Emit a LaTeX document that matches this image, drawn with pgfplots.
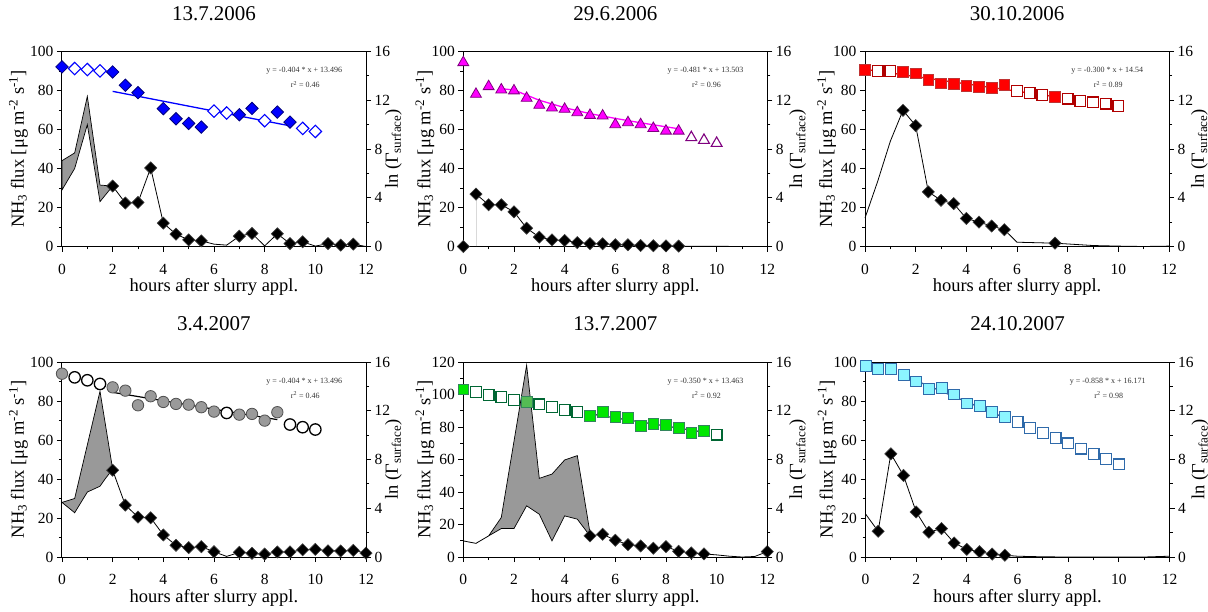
\documentclass[border=0pt]{standalone}
\usepackage{fontspec}
\setmainfont{Liberation Serif}
\usepackage{pgfplots}
\pgfplotsset{compat=1.18}

\definecolor{bfill}{HTML}{0000FF}
\definecolor{bedge}{HTML}{00007A}
\definecolor{mfill}{HTML}{FF00FF}
\definecolor{medge}{HTML}{7F007F}
\definecolor{rfill}{HTML}{FF0000}
\definecolor{redge}{HTML}{B00000}
\definecolor{cgfill}{HTML}{9A9A9A}
\definecolor{cgedge}{HTML}{505050}
\definecolor{gfill}{HTML}{00E600}
\definecolor{gedge}{HTML}{006633}
\definecolor{gline}{HTML}{2E6B3A}
\definecolor{cfill}{HTML}{8CF5FF}
\definecolor{cedge}{HTML}{2F6AAA}
\definecolor{cline}{HTML}{336699}
\definecolor{band}{HTML}{999999}

\tikzset{eq/.style={font=\fontsize{8}{9}\selectfont, text=black!80}}

\pgfplotsset{
  base/.style={
    scale only axis, width=304pt, height=195pt, anchor=south west,
    xmin=0, xmax=12, tick align=outside,
    major tick length=5pt, minor tick length=3pt,
    axis line style={line width=1pt}, every tick/.style={black, line width=0.9pt},
    /pgf/number format/assume math mode=true,
    tick label style={font=\fontsize{15.5}{17}\selectfont},
    label style={font=\fontsize{18.5}{21}\selectfont},
    clip=false,
  },
  fluxax/.style={base,
    xtick={0,2,...,12}, minor x tick num=1,
    xtick pos=left, ytick pos=left,
    xticklabel shift=9pt,
    ymin=0, ymax=100, ytick={0,20,...,100}, minor y tick num=1,
    xlabel={hours after slurry appl.},
    ylabel={NH\textsubscript{3} flux [μg m\textsuperscript{-2} s\textsuperscript{-1}]},
    xlabel style={at={(axis description cs:0.5,-0.21)}, anchor=center},
    title style={font=\fontsize{21}{24}\selectfont, at={(axis description cs:0.5,1.165)}, anchor=center},
  },
  lnax/.style={base,
    axis y line*=right, axis x line=none,
    ymin=0, ymax=16, ytick={0,4,...,16}, minor y tick num=1,
    ylabel={ln (Γ\textsubscript{surface})},
  },
  fline/.style={black, line width=0.8pt, mark=none},
  fmk/.style={only marks, mark=square*, mark size=4.3pt,
    mark options={rotate=45, fill=black, draw=black!75, line width=0.6pt}},
  bandst/.style={fill=band, draw=black, line width=0.7pt},
}

\begin{document}
\begin{tikzpicture}

% ---------- 13.7.2006 ----------
\begin{axis}[fluxax, at={(62pt,-246.5pt)}, title={13.7.2006},
  ylabel style={at={(axis description cs:-0.143,0.5)}, anchor=center}]
\addplot[bandst] coordinates {(0,44) (0.5,48) (1,77) (1.5,31.5) (2,31) (1.5,23) (1,62.5) (0.5,40) (0,29) (0,44)};
\addplot[fline] coordinates {(2,31) (2.5,22.3) (3,22.6) (3.5,40.3) (4,12) (4.5,6.3) (5,3.4) (5.5,2.9) (6,1.2) (6.5,0.7) (7,5.3) (7.5,6.7) (8,0.3) (8.5,6.5) (9,1.5) (9.5,2.4) (10,0.2) (10.5,1.5) (11,0.7) (11.5,1.2) (12,0)};
\addplot[fmk] coordinates {(2,31) (2.5,22.3) (3,22.6) (3.5,40.3) (4,12) (4.5,6.3) (5,3.4) (5.5,2.9) (7,5.3) (7.5,6.7) (8.5,6.5) (9,1.5) (9.5,2.4) (10.5,1.5) (11,0.7) (11.5,1.2)};
\end{axis}
\begin{axis}[lnax, at={(62pt,-246.5pt)},
  ylabel style={at={(axis description cs:1.09,0.5)}, anchor=center}]
\addplot[only marks, mark=square*, mark size=4.4pt, mark options={rotate=45, fill=white, draw=bfill, line width=1.1pt}]
  coordinates {(0.5,14.6) (1,14.52) (1.5,14.41) (6,11.11) (6.5,10.95) (8,10.32) (9.5,9.69) (10,9.44)};
\addplot[only marks, mark=square*, mark size=4.4pt, mark options={rotate=45, fill=bfill, draw=bedge, line width=0.8pt}]
  coordinates {(0,14.74) (2,14.32) (2.5,13.23) (3,12.62) (4,11.31) (4.5,10.48) (5,10.1) (5.5,9.8) (7,10.81) (7.5,11.33) (8.5,11.03) (9,10.21)};
\addplot[bfill, line width=1.3pt] coordinates {(2,12.73) (9,9.9)};
\node[eq] at (rel axis cs:0.797,0.9) {y = -0.404 * x + 13.496};
\node[eq] at (rel axis cs:0.8,0.83) {r\textsuperscript{2} = 0.46};
\end{axis}

% ---------- 29.6.2006 ----------
\begin{axis}[fluxax, at={(463.3pt,-246.5pt)}, title={29.6.2006},
  ylabel style={at={(axis description cs:-0.126,0.5)}, anchor=center}]
\addplot[black!15, line width=0.6pt] coordinates {(0.5,0) (0.5,27)};
\addplot[fline] coordinates {(0.5,26.9) (1,21.4) (1.5,21.4) (2,17.8) (2.5,9.4) (3,4.8) (3.5,3.4) (4,3.1) (4.5,2) (5,1.5) (5.5,1.4) (6,0.9) (6.5,0.9) (7,0.5) (7.5,0.4) (8,0.3) (8.5,0.2) (9,0.1) (12,0)};
\addplot[fmk] coordinates {(0,0) (0.5,26.9) (1,21.4) (1.5,21.4) (2,17.8) (2.5,9.4) (3,4.8) (3.5,3.4) (4,3.1) (4.5,2) (5,1.5) (5.5,1.4) (6,0.9) (6.5,0.9) (7,0.5) (7.5,0.4) (8,0.3) (8.5,0.2)};
\end{axis}
\begin{axis}[lnax, at={(463.3pt,-246.5pt)},
  ylabel style={at={(axis description cs:1.10,0.5)}, anchor=center}]
\addplot[only marks, mark=triangle*, mark size=6.3pt, mark options={fill=mfill, draw=medge, line width=0.8pt}]
  coordinates {(0,15.1) (0.5,12.5) (1,13.13) (1.5,12.86) (2,12.78) (2.5,12.17) (3,11.6) (3.5,11.38) (4,11.27) (4.5,10.99) (5,10.77) (5.5,10.72) (6,10.01) (6.5,10.17) (7,10.01) (7.5,9.7) (8,9.48) (8.5,9.48)};
\addplot[only marks, mark=triangle*, mark size=6.3pt, mark options={fill=white, draw=medge, line width=1.1pt}]
  coordinates {(9,8.94) (9.5,8.72) (10,8.47)};
\addplot[mfill, line width=1.3pt] coordinates {(1.5,12.95) (2,12.84) (3,12.0) (4,11.39) (5,10.9) (6,10.51) (7,10.15) (8,9.82) (8.5,9.66)};
\node[eq] at (rel axis cs:0.797,0.9) {y = -0.481 * x + 13.503};
\node[eq] at (rel axis cs:0.8,0.83) {r\textsuperscript{2} = 0.96};
\end{axis}

% ---------- 30.10.2006 ----------
\begin{axis}[fluxax, at={(865pt,-246.5pt)}, title={30.10.2006},
  ylabel style={at={(axis description cs:-0.126,0.5)}, anchor=center}]
\addplot[fline] coordinates {(0,14.6) (0.5,33.4) (1,54) (1.5,69.8) (2,62) (2.5,28) (3,23.7) (3.5,22) (4,14.4) (4.5,12.5) (5,10.5) (5.5,8.6) (6,2.2) (7.5,1.7) (9,0.5) (10,0.2) (11,0) (12,0.2)};
\addplot[fmk] coordinates {(1.5,69.8) (2,62) (2.5,28) (3,23.7) (3.5,22) (4,14.4) (4.5,12.5) (5,10.5) (5.5,8.6) (7.5,1.7)};
\end{axis}
\begin{axis}[lnax, at={(865pt,-246.5pt)},
  ylabel style={at={(axis description cs:1.10,0.5)}, anchor=center}]
\addplot[only marks, mark=square*, mark size=5.4pt, mark options={fill=white, draw=redge, line width=1.2pt}]
  coordinates {(0.5,14.41) (1,14.38) (6,12.76) (6.5,12.57) (7,12.43) (8,12.13) (8.5,11.96) (9,11.83) (9.5,11.72) (10,11.53)};
\addplot[only marks, mark=square*, mark size=5.4pt, mark options={fill=rfill, draw=redge!80, line width=0.8pt}]
  coordinates {(0,14.46) (1.5,14.32) (2,14.21) (2.5,13.67) (3,13.39) (3.5,13.36) (4,13.17) (4.5,13.09) (5,13.04) (5.5,13.23) (7.5,12.29)};
\addplot[rfill, line width=1.3pt] coordinates {(0,14.54) (7.5,12.29)};
\node[eq] at (rel axis cs:0.797,0.9) {y = -0.300 * x + 14.54};
\node[eq] at (rel axis cs:0.8,0.83) {r\textsuperscript{2} = 0.89};
\end{axis}

% ---------- 3.4.2007 ----------
\begin{axis}[fluxax, at={(62pt,-557pt)}, title={3.4.2007},
  ylabel style={at={(axis description cs:-0.143,0.5)}, anchor=center}]
\addplot[bandst] coordinates {(0,28) (0.5,30) (1.5,85) (2,45) (1.7,40) (1.5,36.3) (1,33.3) (0.5,22.7) (0,28)};
\addplot[fline] coordinates {(2,44.5) (2.5,26.6) (3,20.5) (3.5,20.1) (4,11.3) (4.5,6) (5,4.8) (5.5,5.3) (6,2.7) (6.5,0.3) (7,2.4) (7.5,1.9) (8,1.5) (8.5,2.6) (9,2.6) (9.5,3.7) (10,3.9) (10.5,3.2) (11,3.1) (11.5,3.4) (12,2)};
\addplot[fmk] coordinates {(2,44.5) (2.5,26.6) (3,20.5) (3.5,20.1) (4,11.3) (4.5,6) (5,4.8) (5.5,5.3) (6,2.7) (7,2.4) (7.5,1.9) (8,1.5) (8.5,2.6) (9,2.6) (9.5,3.7) (10,3.9) (10.5,3.2) (11,3.1) (11.5,3.4) (12,2)};
\end{axis}
\begin{axis}[lnax, at={(62pt,-557pt)},
  ylabel style={at={(axis description cs:1.09,0.5)}, anchor=center}]
\addplot[only marks, mark=*, mark size=5.7pt, mark options={fill=white, draw=black, line width=1.3pt}]
  coordinates {(0.5,14.74) (1,14.5) (1.5,14.2) (6.5,11.82) (9,10.87) (9.5,10.65) (10,10.46)};
\addplot[only marks, mark=*, mark size=5.7pt, mark options={fill=cgfill, draw=cgedge, line width=0.8pt}]
  coordinates {(0,15.04) (2,13.92) (2.5,13.65) (3,12.45) (3.5,13.19) (4,12.72) (4.5,12.56) (5,12.5) (5.5,12.29) (6,11.93) (7,11.68) (7.5,11.74) (8,11.19) (8.5,11.88)};
\addplot[black, line width=1.2pt] coordinates {(2,13.51) (8.5,11.27)};
\node[eq] at (rel axis cs:0.797,0.9) {y = -0.404 * x + 13.496};
\node[eq] at (rel axis cs:0.8,0.83) {r\textsuperscript{2} = 0.46};
\end{axis}

% ---------- 13.7.2007 ----------
\begin{axis}[fluxax, at={(463.3pt,-557pt)}, title={13.7.2007},
  ymax=120, ytick={0,20,...,120},
  ylabel style={at={(axis description cs:-0.126,0.5)}, anchor=center}]
\addplot[bandst] coordinates {(1,13) (1.5,24.3) (2.5,118) (3,48.4) (3.5,51) (4,59.7) (4.5,62.4) (5,15) (5,13) (4.5,23.3) (4,25.3) (3.5,9.9) (3,26.3) (2.5,31.5) (2,17.5) (1.5,17.5) (1,13)};
\addplot[fline] coordinates {(0,9.9) (0.5,8.4) (1,13)};
\addplot[fline] coordinates {(5,13) (5.5,14) (6,10.3) (6.5,7.6) (7,6.8) (7.5,5.4) (8,6.4) (8.5,3.5) (9,2.5) (9.5,1.9) (10,1.3) (10.5,0.5) (11,0) (11.5,0.3) (12,3.3)};
\addplot[fmk] coordinates {(5,13) (5.5,14) (6,10.3) (6.5,7.6) (7,6.8) (7.5,5.4) (8,6.4) (8.5,3.5) (9,2.5) (9.5,1.9) (12,3.3)};
\end{axis}
\begin{axis}[lnax, at={(463.3pt,-557pt)},
  ylabel style={at={(axis description cs:1.10,0.5)}, anchor=center}]
\addplot[only marks, mark=square*, mark size=5.4pt, mark options={fill=white, draw=gedge, line width=1.2pt}]
  coordinates {(0.5,13.53) (1,13.31) (1.5,13.12) (2,12.9) (3,12.52) (3.5,12.3) (4,12.08) (4.5,11.88) (10,10.04)};
\addplot[only marks, mark=square*, mark size=5.4pt, mark options={fill=gfill, draw=gedge!80, line width=0.8pt}]
  coordinates {(0,13.75) (5,11.61) (5.5,11.88) (6,11.47) (6.5,11.42) (7,10.78) (7.5,10.92) (8,10.84) (8.5,10.59) (9,10.18) (9.5,10.37)};
\addplot[only marks, mark=square*, mark size=5.4pt, mark options={fill=gfill!45!band, draw=gedge!80, line width=0.8pt}]
  coordinates {(2.5,12.71)};
\addplot[gline, line width=1.3pt] coordinates {(5,11.75) (9.5,10.24)};
\node[eq] at (rel axis cs:0.797,0.9) {y = -0.350 * x + 13.463};
\node[eq] at (rel axis cs:0.8,0.83) {r\textsuperscript{2} = 0.92};
\end{axis}

% ---------- 24.10.2007 ----------
\begin{axis}[fluxax, at={(865.5pt,-557pt)}, title={24.10.2007},
  ylabel style={at={(axis description cs:-0.126,0.5)}, anchor=center}]
\addplot[fline] coordinates {(0,22.1) (0.5,13.2) (1,52.9) (1.5,41.8) (2,23.1) (2.5,12.7) (3,14.6) (3.5,7.2) (4,3.9) (4.5,2.7) (5,1.5) (5.5,0.9) (6,0.4) (7,0.1) (8,0) (11,0) (12,0.4)};
\addplot[fmk] coordinates {(0.5,13.2) (1,52.9) (1.5,41.8) (2,23.1) (2.5,12.7) (3,14.6) (3.5,7.2) (4,3.9) (4.5,2.7) (5,1.5) (5.5,0.9)};
\end{axis}
\begin{axis}[lnax, at={(865.5pt,-557pt)},
  ylabel style={at={(axis description cs:1.10,0.5)}, anchor=center}]
\addplot[only marks, mark=square*, mark size=5.4pt, mark options={fill=white, draw=cedge, line width=1.2pt}]
  coordinates {(6,11.07) (6.5,10.6) (7,10.19) (7.5,9.78) (8,9.32) (8.5,8.9) (9,8.47) (9.5,8.03) (10,7.59)};
\addplot[only marks, mark=square*, mark size=5.4pt, mark options={fill=cfill, draw=cedge, line width=0.8pt}]
  coordinates {(0,15.67) (0.5,15.45) (1,15.42) (1.5,14.93) (2,14.41) (2.5,13.78) (3,13.89) (3.5,13.34) (4,12.6) (4.5,12.38) (5,11.89) (5.5,11.48)};
\addplot[cline, line width=1.3pt] coordinates {(1.5,14.9) (5.5,11.42)};
\node[eq] at (rel axis cs:0.797,0.9) {y = -0.858 * x + 16.171};
\node[eq] at (rel axis cs:0.8,0.83) {r\textsuperscript{2} = 0.98};
\end{axis}

\pgfresetboundingbox
\path (0,0) rectangle (1208pt,-612pt);
\end{tikzpicture}
\end{document}
